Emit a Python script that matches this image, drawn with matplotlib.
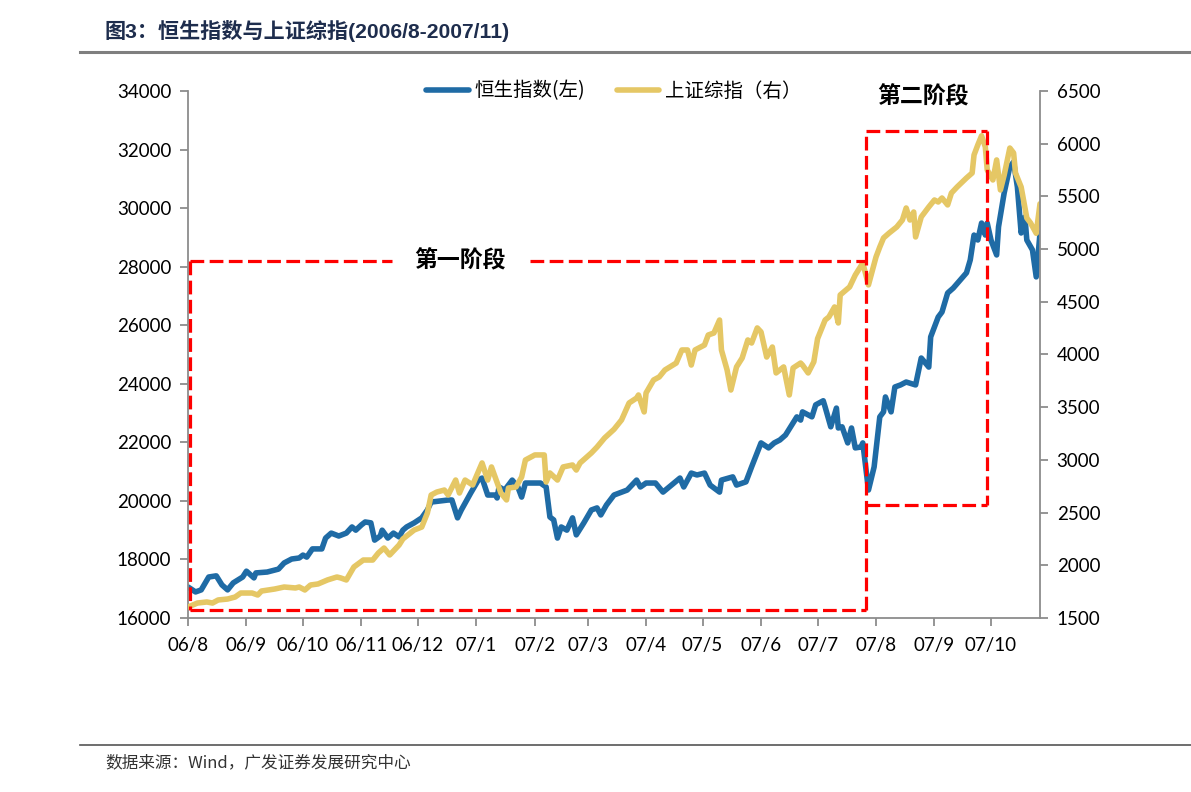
import matplotlib
matplotlib.use("Agg")
import matplotlib.pyplot as plt
import matplotlib.dates as mdates
from matplotlib.ticker import FuncFormatter
import pandas as pd

# ---------------- data ----------------
hsi_dates = [
    "2006-08-01", "2006-08-05", "2006-08-08", "2006-08-12", "2006-08-16", "2006-08-19",
    "2006-08-22", "2006-08-25", "2006-08-30", "2006-09-01", "2006-09-05", "2006-09-06",
    "2006-09-12", "2006-09-18", "2006-09-21", "2006-09-25", "2006-09-29", "2006-10-01",
    "2006-10-03", "2006-10-06", "2006-10-11", "2006-10-13", "2006-10-16", "2006-10-20",
    "2006-10-24", "2006-10-27", "2006-10-29", "2006-11-01", "2006-11-03", "2006-11-06",
    "2006-11-08", "2006-11-11", "2006-11-12", "2006-11-15", "2006-11-18", "2006-11-21",
    "2006-11-23", "2006-11-25", "2006-11-29", "2006-12-03", "2006-12-06", "2006-12-08",
    "2006-12-17", "2006-12-19", "2006-12-22", "2006-12-24", "2006-12-29", "2007-01-02",
    "2007-01-04", "2007-01-07", "2007-01-11", "2007-01-12", "2007-01-13", "2007-01-16",
    "2007-01-20", "2007-01-23", "2007-01-25", "2007-01-27", "2007-02-04", "2007-02-07",
    "2007-02-09", "2007-02-11", "2007-02-13", "2007-02-15", "2007-02-18", "2007-02-21",
    "2007-02-23", "2007-02-27", "2007-03-03", "2007-03-06", "2007-03-08", "2007-03-11",
    "2007-03-15", "2007-03-22", "2007-03-27", "2007-03-29", "2007-04-01", "2007-04-06",
    "2007-04-10", "2007-04-19", "2007-04-21", "2007-04-25", "2007-04-28", "2007-05-02",
    "2007-05-05", "2007-05-10", "2007-05-11", "2007-05-17", "2007-05-19", "2007-05-24",
    "2007-05-27", "2007-06-01", "2007-06-05", "2007-06-08", "2007-06-11", "2007-06-14",
    "2007-06-20", "2007-06-22", "2007-06-23", "2007-06-28", "2007-06-30", "2007-07-04",
    "2007-07-05", "2007-07-08", "2007-07-11", "2007-07-12", "2007-07-14", "2007-07-17",
    "2007-07-19", "2007-07-21", "2007-07-24", "2007-07-25", "2007-07-28", "2007-07-31",
    "2007-08-01", "2007-08-03", "2007-08-05", "2007-08-06", "2007-08-09", "2007-08-11",
    "2007-08-14", "2007-08-17", "2007-08-22", "2007-08-25", "2007-08-29", "2007-08-30",
    "2007-09-03", "2007-09-05", "2007-09-08", "2007-09-11", "2007-09-18", "2007-09-20",
    "2007-09-22", "2007-09-24", "2007-09-26", "2007-09-28", "2007-09-29", "2007-10-01",
    "2007-10-04", "2007-10-05", "2007-10-08", "2007-10-11", "2007-10-13", "2007-10-15",
    "2007-10-17", "2007-10-19", "2007-10-20", "2007-10-23", "2007-10-25", "2007-10-27",
]
hsi_values = [
    17060, 16890, 16960, 17400, 17440, 17130,
    16960, 17200, 17400, 17600, 17370, 17540,
    17570, 17670, 17880, 18015, 18050, 18150,
    18080, 18360, 18360, 18730, 18900, 18800,
    18900, 19110, 19000, 19180, 19280, 19250,
    18660, 18800, 19000, 18730, 18900, 18770,
    19000, 19110, 19250, 19420, 19690, 19960,
    20030, 20030, 19420, 19690, 20270, 20710,
    20780, 20200, 20200, 20100, 20475, 20370,
    20710, 20475, 20130, 20610, 20610, 20475,
    19450, 19350, 18730, 19110, 19000, 19420,
    18840, 19250, 19690, 19760, 19520, 19860,
    20200, 20370, 20710, 20475, 20610, 20610,
    20300, 20780, 20475, 20950, 20885, 20950,
    20540, 20300, 20710, 20820, 20540, 20650,
    21160, 21980, 21810, 21980, 22080, 22250,
    22870, 22760, 23040, 22870, 23280, 23420,
    23210, 22530, 23170, 22490, 22530, 21980,
    22490, 21810, 21840, 21980, 20370, 21160,
    21740, 22870, 23040, 23550, 23040, 23890,
    23960, 24060, 23960, 24880, 24570, 25600,
    26280, 26450, 27100, 27270, 27790, 28230,
    29080, 28910, 29490, 29080, 29490, 28910,
    28400, 29360, 30520, 31410, 31580, 30720,
    29150, 29700, 28910, 28570, 27650, 29150,
]

sse_dates = [
    "2006-08-01", "2006-08-06", "2006-08-11", "2006-08-14", "2006-08-17", "2006-08-22",
    "2006-08-26", "2006-08-29", "2006-09-04", "2006-09-07", "2006-09-09", "2006-09-16",
    "2006-09-21", "2006-09-27", "2006-09-29", "2006-10-02", "2006-10-05", "2006-10-09",
    "2006-10-14", "2006-10-19", "2006-10-21", "2006-10-24", "2006-10-28", "2006-11-02",
    "2006-11-07", "2006-11-10", "2006-11-13", "2006-11-16", "2006-11-21", "2006-11-23",
    "2006-11-29", "2006-12-03", "2006-12-06", "2006-12-08", "2006-12-11", "2006-12-15",
    "2006-12-17", "2006-12-21", "2006-12-23", "2006-12-26", "2006-12-30", "2007-01-04",
    "2007-01-07", "2007-01-09", "2007-01-14", "2007-01-17", "2007-01-18", "2007-01-22",
    "2007-01-25", "2007-01-27", "2007-02-01", "2007-02-06", "2007-02-07", "2007-02-09",
    "2007-02-13", "2007-02-16", "2007-02-21", "2007-02-23", "2007-02-25", "2007-03-03",
    "2007-03-06", "2007-03-10", "2007-03-15", "2007-03-19", "2007-03-23", "2007-03-27",
    "2007-03-28", "2007-03-31", "2007-04-01", "2007-04-05", "2007-04-08", "2007-04-11",
    "2007-04-17", "2007-04-20", "2007-04-23", "2007-04-25", "2007-04-27", "2007-05-02",
    "2007-05-04", "2007-05-07", "2007-05-10", "2007-05-11", "2007-05-14", "2007-05-16",
    "2007-05-19", "2007-05-22", "2007-05-25", "2007-05-27", "2007-05-30", "2007-06-01",
    "2007-06-04", "2007-06-07", "2007-06-09", "2007-06-13", "2007-06-16", "2007-06-18",
    "2007-06-22", "2007-06-23", "2007-06-26", "2007-06-29", "2007-07-01", "2007-07-05",
    "2007-07-07", "2007-07-10", "2007-07-12", "2007-07-13", "2007-07-18", "2007-07-21",
    "2007-07-25", "2007-07-28", "2007-08-01", "2007-08-03", "2007-08-05", "2007-08-08",
    "2007-08-12", "2007-08-15", "2007-08-17", "2007-08-19", "2007-08-21", "2007-08-22",
    "2007-08-25", "2007-08-29", "2007-09-01", "2007-09-03", "2007-09-05", "2007-09-08",
    "2007-09-10", "2007-09-13", "2007-09-18", "2007-09-21", "2007-09-22", "2007-09-24",
    "2007-09-26", "2007-09-28", "2007-09-29", "2007-10-02", "2007-10-04", "2007-10-06",
    "2007-10-08", "2007-10-11", "2007-10-13", "2007-10-14", "2007-10-17", "2007-10-20",
    "2007-10-22", "2007-10-25", "2007-10-27",
]
sse_values = [
    1604, 1642, 1652, 1642, 1671, 1680,
    1699, 1737, 1737, 1718, 1756, 1775,
    1794, 1785, 1794, 1766, 1813, 1823,
    1861, 1889, 1880, 1861, 1984, 2050,
    2050, 2117, 2164, 2098, 2193, 2250,
    2335, 2363, 2496, 2667, 2695, 2714,
    2667, 2809, 2686, 2809, 2762, 2971,
    2809, 2933, 2686, 2620, 2733, 2743,
    2838, 2999, 3047, 3047, 2790, 2876,
    2809, 2933, 2952, 2904, 2971, 3066,
    3122, 3208, 3290, 3379, 3540, 3587,
    3616, 3455, 3635, 3758, 3787, 3853,
    3919, 4043, 4043, 3900, 4043, 4090,
    4185, 4204, 4327, 4043, 3853, 3663,
    3882, 3967, 4138, 4109, 4252, 4214,
    3976, 4071, 3825, 3882, 3616, 3872,
    3919, 3900, 3825, 3930, 4150, 4327,
    4356, 4451, 4299, 4565, 4641, 4754,
    4868, 4660, 4925, 5020, 5106, 5153,
    5210, 5276, 5390, 5276, 5352, 5115,
    5305, 5400, 5466, 5447, 5485, 5419,
    5532, 5589, 5675, 5722, 5893, 5988,
    6075, 5969, 5751, 5656, 5846, 5561,
    5703, 5959, 5912, 5722, 5589, 5295,
    5248, 5150, 5430,
]

hsi_label = "恒生指数(左)"
sse_label = "上证综指（右）"
title_text = "图3：恒生指数与上证综指(2006/8-2007/11)"
source_text = "数据来源：Wind，广发证券发展研究中心"
stage1_text = "第一阶段"
stage2_text = "第二阶段"

left_ticks = list(range(16000, 34001, 2000))
right_ticks = list(range(1500, 6501, 500))
x_start, x_end = "2006-08-01", "2007-10-27"

# ---------------- styling ----------------
BLUE = "#1F6BA5"
GOLD = "#E5C765"
RED = "#FF0000"
SPINE = "#8C8C8C"
CJK = ["Noto Sans CJK SC", "DejaVu Sans"]
NUM = ["Lato", "Noto Sans CJK SC"]

plt.rcParams["font.family"] = NUM

fig = plt.figure(figsize=(11.91, 7.92), dpi=100)
ax = fig.add_axes([188 / 1191, 1 - 618 / 792, 852 / 1191, 527 / 792])
ax2 = ax.twinx()

hd = pd.to_datetime(hsi_dates)
sd = pd.to_datetime(sse_dates)
l1, = ax.plot(hd, hsi_values, color=BLUE, lw=4.0, solid_joinstyle="round",
              solid_capstyle="round", label=hsi_label)
l2, = ax2.plot(sd, sse_values, color=GOLD, lw=4.0, solid_joinstyle="round",
               solid_capstyle="round", label=sse_label)

ax.set_xlim(pd.Timestamp(x_start), pd.Timestamp(x_end))
ax.set_ylim(left_ticks[0], left_ticks[-1])
ax2.set_ylim(right_ticks[0], right_ticks[-1])
ax.set_yticks(left_ticks)
ax2.set_yticks(right_ticks)

ax.xaxis.set_major_locator(mdates.MonthLocator())
ax.xaxis.set_major_formatter(FuncFormatter(
    lambda v, p: "{:02d}/{}".format(mdates.num2date(v).year % 100, mdates.num2date(v).month)))

for a in (ax, ax2):
    a.spines["top"].set_visible(False)
    for s in ("left", "right", "bottom"):
        a.spines[s].set_color(SPINE)
        a.spines[s].set_linewidth(1.3)
    a.tick_params(axis="both", colors=SPINE, labelcolor="black", length=6, width=1.3,
                  direction="out", labelsize=13.5)
ax.tick_params(axis="x", pad=8)
ax.tick_params(axis="y", pad=6)
ax2.tick_params(axis="y", pad=6)
ax2.spines["left"].set_visible(False)
ax2.spines["bottom"].set_visible(False)
ax.spines["right"].set_visible(False)

# stage boxes (annotation, axes-fraction coordinates)
dash = (0, (4.3, 1.7))
box_kw = dict(color=RED, lw=2.3, linestyle=dash, transform=ax2.transAxes,
              clip_on=False, zorder=5)
xl, xm, xr2 = 0.0023, 0.7958, 0.9378
yb1, yt1, yb2, yt2 = 0.0152, 0.6774, 0.2144, 0.9241
ax2.plot([xl, xl], [yt1, yb1], **box_kw)
ax2.plot([xl, xm], [yb1, yb1], **box_kw)
ax2.plot([xl, 0.2394], [yt1, yt1], **box_kw)
ax2.plot([0.4014, xm], [yt1, yt1], **box_kw)
ax2.plot([xm, xm], [yb1, yt2], **box_kw)
ax2.plot([xm, xr2], [yt2, yt2], **box_kw)
ax2.plot([xr2, xr2], [yt2, yb2], **box_kw)
ax2.plot([xm, xr2], [yb2, yb2], **box_kw)

ax2.text((460 - 188) / 852, yt1, stage1_text, transform=ax2.transAxes, ha="center",
         va="center", fontsize=16.5, fontweight="bold", family=CJK, zorder=6)
fig.text(923 / 1191, 1 - 97 / 792, stage2_text, ha="center", va="center",
         fontsize=16.5, fontweight="bold", family=CJK)

# legend
fig.legend(handles=[l1, l2], loc="center", bbox_to_anchor=(614 / 1191, 1 - 91 / 792),
           ncol=2, frameon=False, handlelength=2.2, handletextpad=0.3,
           columnspacing=1.6, prop={"family": CJK, "size": 14})

# title / source
fig.text(105 / 1191, 1 - 31 / 792, title_text, ha="left", va="center", fontsize=15.2,
         fontweight="bold", color="#1E2D4D", family=["Liberation Sans", "Noto Sans CJK SC"])
fig.add_artist(plt.Line2D([80 / 1191, 1.0], [1 - 52 / 792, 1 - 52 / 792],
                          color="#7F7F7F", lw=2.2, transform=fig.transFigure))
fig.add_artist(plt.Line2D([80 / 1191, 1.0], [1 - 745 / 792, 1 - 745 / 792],
                          color="#555555", lw=1.2, transform=fig.transFigure))
fig.text(105 / 1191, 1 - 763 / 792, source_text, ha="left", va="center", fontsize=12,
         color="#333333", family=CJK)

fig.savefig("out.png", dpi=100)
